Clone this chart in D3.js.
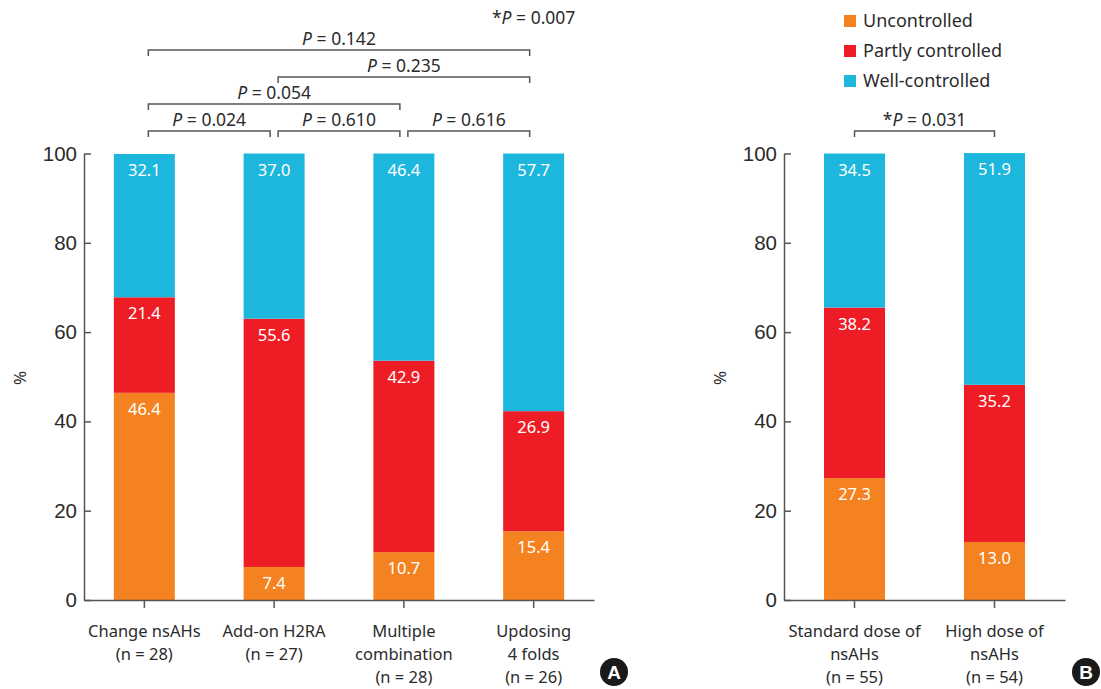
<!DOCTYPE html>
<html>
<head>
<meta charset="utf-8">
<script src="https://cdn.jsdelivr.net/npm/d3@7"></script>
<style>
  html, body { margin: 0; padding: 0; background: #fff; }
  svg { display: block; font-family: "Noto Sans", "Open Sans", sans-serif; }
</style>
</head>
<body>
<svg id="chart" width="1101" height="689"></svg>
<script>
// Control status by treatment strategy (stacked percentages)
const seriesNames = ["Uncontrolled", "Partly controlled", "Well-controlled"];
const seriesColors = ["#F58220", "#EE1D25", "#1DB6DD"];

const categoriesA = [
  ["Change nsAHs", "(n = 28)"],
  ["Add-on H2RA", "(n = 27)"],
  ["Multiple", "combination", "(n = 28)"],
  ["Updosing", "4 folds", "(n = 26)"]
];
const uncontrolledA = [46.4, 7.4, 10.7, 15.4];
const partlyA = [21.4, 55.6, 42.9, 26.9];
const wellA = [32.1, 37.0, 46.4, 57.7];

const categoriesB = [
  ["Standard dose of", "nsAHs", "(n = 55)"],
  ["High dose of", "nsAHs", "(n = 54)"]
];
const uncontrolledB = [27.3, 13.0];
const partlyB = [38.2, 35.2];
const wellB = [34.5, 51.9];

const yTicks = [0, 20, 40, 60, 80, 100];

// Pairwise comparisons: [from index, to index, bracket row, p-value text, starred]
const comparisonsA = [
  [0, 1, 0, "0.024", false],
  [1, 2, 0, "0.610", false],
  [2, 3, 0, "0.616", false],
  [0, 2, 1, "0.054", false],
  [1, 3, 2, "0.235", false],
  [0, 3, 3, "0.142", false]
];
const overallA = "0.007";
const comparisonsB = [
  [0, 1, 0, "0.031", true]
];

const svg = d3.select("#chart");
const textColor = "#2b2b2b";
const axisColor = "#555";

const y = d3.scaleLinear().domain([0, 100]).range([600, 153.5]);

function panel(opts) {
  const { cats, unc, part, well, x0, x1, pIn, pOut, pctX, comps, exactEnds } = opts;
  const g = svg.append("g");
  const keys = cats.map((c, i) => i);
  const x = d3.scaleBand().domain(keys).range([x0, x1]).paddingInner(pIn).paddingOuter(pOut);

  const rows = keys.map(i => ({ i, v: [unc[i], part[i], well[i]] }));
  const stack = d3.stack().keys([0, 1, 2]).value((d, k) => d.v[k]);
  const layers = stack(rows);

  layers.forEach((layer, k) => {
    g.append("g").selectAll("rect").data(layer).join("rect")
      .attr("x", d => x(d.data.i))
      .attr("width", x.bandwidth())
      .attr("y", d => y(d[1]))
      .attr("height", d => y(d[0]) - y(d[1]))
      .attr("fill", seriesColors[k]);
    g.append("g").selectAll("text").data(layer).join("text")
      .attr("x", d => x(d.data.i) + x.bandwidth() / 2)
      .attr("y", d => y(d[1]) + 22)
      .attr("text-anchor", "middle")
      .attr("fill", "#fff")
      .attr("font-size", 16.5)
      .text(d => d.data.v[k].toFixed(1));
  });

  // y axis (ticks point inward)
  const yAxis = g.append("g").attr("transform", `translate(${x0},0)`)
    .call(d3.axisRight(y).tickValues(yTicks).tickSize(7).tickSizeOuter(0).tickFormat(d3.format("d")));
  yAxis.select(".domain").attr("stroke", axisColor).attr("stroke-width", 1.5);
  yAxis.selectAll(".tick line").attr("stroke", axisColor).attr("stroke-width", 1.5);
  yAxis.selectAll(".tick text")
    .attr("x", -7).attr("text-anchor", "end")
    .attr("fill", textColor).attr("font-size", 20.5).attr("font-family", "Liberation Sans, Arial, sans-serif");

  // x axis
  const xAxis = g.append("g").attr("transform", `translate(0,${y(0)})`)
    .call(d3.axisBottom(x).tickSize(8).tickSizeOuter(0).tickFormat(""));
  xAxis.select(".domain").attr("stroke", axisColor).attr("stroke-width", 1.5);
  xAxis.selectAll(".tick line").attr("stroke", axisColor).attr("stroke-width", 1.5);

  // category labels
  keys.forEach(i => {
    const t = g.append("text")
      .attr("x", x(i) + x.bandwidth() / 2)
      .attr("y", 637)
      .attr("text-anchor", "middle")
      .attr("fill", textColor)
      .attr("font-size", 16.5);
    cats[i].forEach((line, j) => {
      t.append("tspan").attr("x", x(i) + x.bandwidth() / 2).attr("y", 637 + j * 23).text(line);
    });
  });

  // % axis title
  g.append("text")
    .attr("transform", `translate(${pctX},378) rotate(-90)`)
    .attr("text-anchor", "middle")
    .attr("fill", textColor)
    .attr("font-size", 17)
    .text("%");

  // significance brackets
  const rowY = [131, 104, 77, 50];
  comps.forEach(([a, b, row, p, star]) => {
    const ca = x(a) + x.bandwidth() / 2;
    const cb = x(b) + x.bandwidth() / 2;
    const xa = exactEnds ? ca : ca + 4;
    const xb = exactEnds ? cb : cb - 4;
    const yy = rowY[row];
    g.append("path")
      .attr("d", `M${xa},${yy + 6}V${yy}H${xb}V${yy + 6}`)
      .attr("fill", "none").attr("stroke", axisColor).attr("stroke-width", 1.5);
    pLabel(g, (xa + xb) / 2, yy - 5, p, star);
  });
  return x;
}

function pLabel(g, cx, by, p, star) {
  const t = g.append("text")
    .attr("x", cx).attr("y", by)
    .attr("text-anchor", "middle")
    .attr("fill", textColor)
    .attr("font-size", 17.5);
  if (star) t.append("tspan").text("*");
  t.append("tspan").attr("font-style", "italic").text("P");
  t.append("tspan").text(" = " + p);
}

const xA = panel({
  cats: categoriesA, unc: uncontrolledA, part: partlyA, well: wellA,
  x0: 84, x1: 594, pIn: 0.53, pOut: 0.23, pctX: 26, comps: comparisonsA, exactEnds: false
});
pLabel(svg, xA(3) + xA.bandwidth() / 2, 24, overallA, true);

panel({
  cats: categoriesB, unc: uncontrolledB, part: partlyB, well: wellB,
  x0: 784, x1: 1065, pIn: 0.564, pOut: 0.286, pctX: 726, comps: comparisonsB, exactEnds: true
});

// legend
const legend = svg.append("g");
seriesNames.forEach((name, k) => {
  const cy = 21 + k * 30;
  legend.append("rect").attr("x", 844).attr("y", cy - 6).attr("width", 12).attr("height", 12).attr("fill", seriesColors[k]);
  legend.append("text").attr("x", 863).attr("y", cy + 6).attr("fill", textColor).attr("font-size", 18).text(name);
});

// panel badges
[["A", 614, 672], ["B", 1086, 672]].forEach(([label, cx, cy]) => {
  svg.append("circle").attr("cx", cx).attr("cy", cy).attr("r", 14).attr("fill", "#1a1a1a");
  svg.append("text").attr("x", cx).attr("y", cy + 6.5).attr("text-anchor", "middle")
    .attr("fill", "#fff").attr("font-size", 19).attr("font-weight", "bold")
    .attr("font-family", "Liberation Sans, Arial, sans-serif").text(label);
});
</script>
</body>
</html>
